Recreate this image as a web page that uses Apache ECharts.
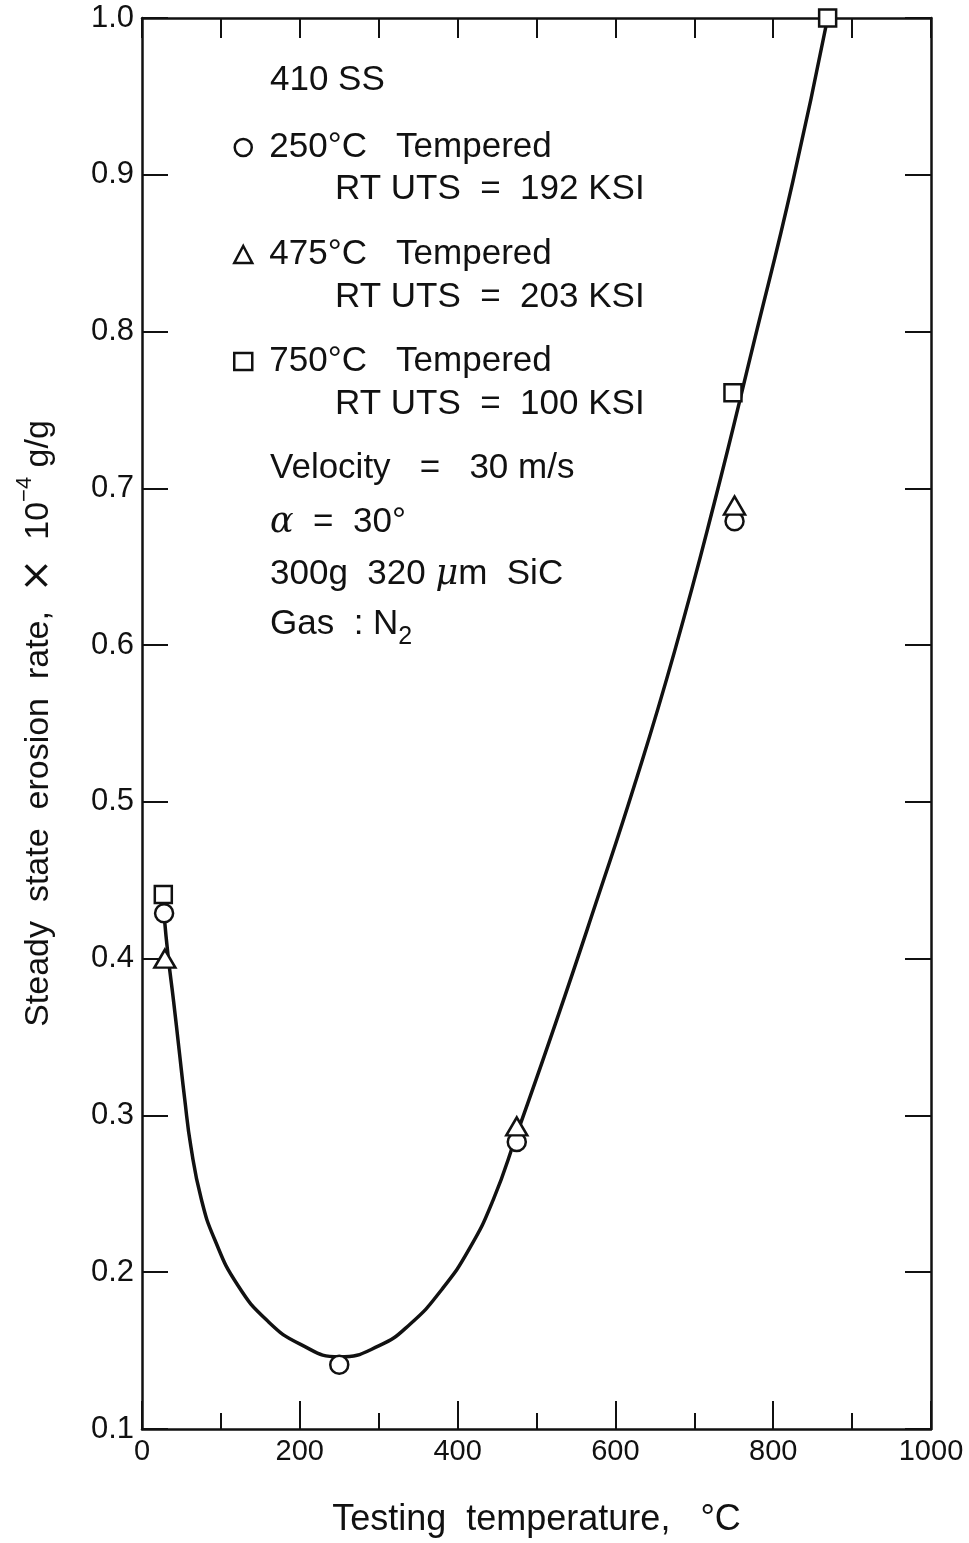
<!DOCTYPE html>
<html>
<head>
<meta charset="utf-8">
<script src="https://cdn.jsdelivr.net/npm/echarts@6/dist/echarts.min.js"></script>
<style>
html,body{margin:0;padding:0;background:#fff;}
#chart{width:969px;height:1543px;}
</style>
</head>
<body>
<div id="chart"></div>
<script>
// ---- data ----
const xTicksMajor = [0, 200, 400, 600, 800, 1000];
const yTicks = [0.1, 0.2, 0.3, 0.4, 0.5, 0.6, 0.7, 0.8, 0.9, 1.0];

const t250Name = '250°C   Tempered';
const t250X = [28, 250, 475, 751];
const t250Y = [0.429, 0.141, 0.283, 0.679];

const t475Name = '475°C   Tempered';
const t475X = [29, 475, 751];
const t475Y = [0.400, 0.293, 0.689];

const t750Name = '750°C   Tempered';
const t750X = [27, 749, 869];
const t750Y = [0.441, 0.761, 1.0];

const fitX = [28, 33, 40, 47, 54, 62, 75, 92, 121, 159, 201, 250, 300, 340, 380, 415, 445, 475, 525, 575, 625, 675, 725, 775, 825, 869];
const fitY = [0.428, 0.402, 0.373, 0.342, 0.311, 0.280, 0.247, 0.221, 0.192, 0.169, 0.154, 0.146, 0.153, 0.167, 0.189, 0.215, 0.246, 0.288, 0.360, 0.435, 0.512, 0.596, 0.690, 0.792, 0.896, 1.0];

const utsLines = ['RT UTS  =  192 KSI', 'RT UTS  =  203 KSI', 'RT UTS  =  100 KSI'];

// ---- chart ----
const FONT = '"Liberation Sans", Arial, Helvetica, sans-serif';
const INK = '#111';
const zip = (xs, ys) => xs.map((x, i) => [x, ys[i]]);
const markerStyle = { color: '#fff', borderColor: INK, borderWidth: 2.5, opacity: 1 };

const chart = echarts.init(document.getElementById('chart'), null, { renderer: 'canvas' });

const annoFont = 35;
function textEl(left, cy, text) {
  return {
    type: 'text', left: left, top: cy - annoFont / 2,
    style: { text: text, font: annoFont + 'px ' + FONT, fill: INK }
  };
}
function richEl(left, cy, text, rich) {
  return { type: 'text', left: left, top: cy - 14, style: { text: text, rich: rich } };
}
const plain = { font: annoFont + 'px ' + FONT, fill: INK, lineHeight: 50 };
const ital = { font: 'italic ' + annoFont + 'px "DejaVu Serif", serif', fill: INK, lineHeight: 50 };

const axisLineStyle = { show: true, onZero: false, lineStyle: { color: INK, width: 2.5 } };

const option = {
  animation: false,
  backgroundColor: '#fff',
  grid: { left: 142, right: 38, top: 18, bottom: 112, containLabel: false },
  xAxis: [
    {
      type: 'value', position: 'bottom', min: 0, max: 1000, interval: 200,
      name: 'Testing  temperature,   °C', nameLocation: 'middle', nameGap: 73,
      nameTextStyle: { fontFamily: FONT, fontSize: 36, color: INK },
      axisLine: axisLineStyle,
      axisTick: { show: true, inside: true, length: 28, lineStyle: { color: INK, width: 2 } },
      minorTick: { show: true, splitNumber: 2, length: 16, lineStyle: { color: INK, width: 2 } },
      axisLabel: { fontFamily: FONT, fontSize: 29, color: INK, margin: 8,
        formatter: v => xTicksMajor.includes(v) ? String(v) : '' },
      splitLine: { show: false }
    },
    {
      type: 'value', position: 'top', min: 0, max: 1000, interval: 100,
      axisLine: axisLineStyle,
      axisTick: { show: true, inside: true, length: 20, lineStyle: { color: INK, width: 2 } },
      axisLabel: { show: false }, splitLine: { show: false }
    }
  ],
  yAxis: [
    {
      type: 'value', position: 'left', min: 0.1, max: 1.0, interval: 0.1,
      name: '{a|Steady  state  erosion  rate,  }{x|×}{a|  10}{s|−4}{a| g/g}',
      nameLocation: 'middle', nameGap: 78,
      nameTextStyle: {
        rich: {
          a: { fontFamily: FONT, fontSize: 34, color: INK, lineHeight: 50 },
          x: { fontFamily: '"DejaVu Sans", sans-serif', fontSize: 40, color: INK, lineHeight: 50 },
          s: { fontFamily: FONT, fontSize: 22, color: INK, lineHeight: 24, verticalAlign: 'top' }
        }
      },
      axisLine: axisLineStyle,
      axisTick: { show: true, inside: true, length: 26, lineStyle: { color: INK, width: 2 } },
      axisLabel: { fontFamily: FONT, fontSize: 31, color: INK, margin: 8,
        formatter: v => {
          const r = Math.round(v * 10) / 10;
          return yTicks.some(t => Math.abs(t - r) < 1e-9) ? r.toFixed(1) : '';
        } },
      splitLine: { show: false }
    },
    {
      type: 'value', position: 'right', min: 0.1, max: 1.0, interval: 0.1,
      axisLine: axisLineStyle,
      axisTick: { show: true, inside: true, length: 26, lineStyle: { color: INK, width: 2 } },
      axisLabel: { show: false }, splitLine: { show: false }
    }
  ],
  legend: {
    orient: 'vertical', left: 228, top: 125, itemGap: 72,
    itemWidth: 18, itemHeight: 17,
    data: [t250Name, t475Name, t750Name],
    itemStyle: { color: '#fff', borderColor: INK, borderWidth: 2.5, opacity: 1 },
    textStyle: { fontFamily: FONT, fontSize: annoFont, color: INK, padding: [0, 0, 0, 12] },
    selectedMode: false
  },
  graphic: [
    textEl(270, 80, '410 SS'),
    textEl(335, 189, utsLines[0]),
    textEl(335, 297, utsLines[1]),
    textEl(335, 404, utsLines[2]),
    textEl(270, 468, 'Velocity   =   30 m/s'),
    richEl(270, 519, '{i|α}{a|  =  30°}', { i: ital, a: plain }),
    richEl(270, 571, '{a|300g  320 }{i|μ}{a|m  SiC}', { i: ital, a: plain }),
    richEl(270, 621, '{a|Gas  : N}{s|2}', {
      a: plain,
      s: { font: '25px ' + FONT, fill: INK, lineHeight: 24, verticalAlign: 'bottom' }
    })
  ],
  series: [
    {
      type: 'line', name: 'fit', data: zip(fitX, fitY), xAxisIndex: 0, yAxisIndex: 0,
      smooth: 0.5, showSymbol: false, symbol: 'none',
      lineStyle: { color: INK, width: 3.5 }, z: 2, silent: true
    },
    {
      type: 'scatter', name: t250Name, data: zip(t250X, t250Y),
      symbol: 'circle', symbolSize: 18, itemStyle: markerStyle, z: 5
    },
    {
      type: 'scatter', name: t475Name, data: zip(t475X, t475Y),
      symbol: 'triangle', symbolSize: [21, 18], itemStyle: markerStyle, z: 5
    },
    {
      type: 'scatter', name: t750Name, data: zip(t750X, t750Y),
      symbol: 'rect', symbolSize: 17, itemStyle: markerStyle, z: 6
    }
  ]
};
chart.setOption(option);
</script>
</body>
</html>
